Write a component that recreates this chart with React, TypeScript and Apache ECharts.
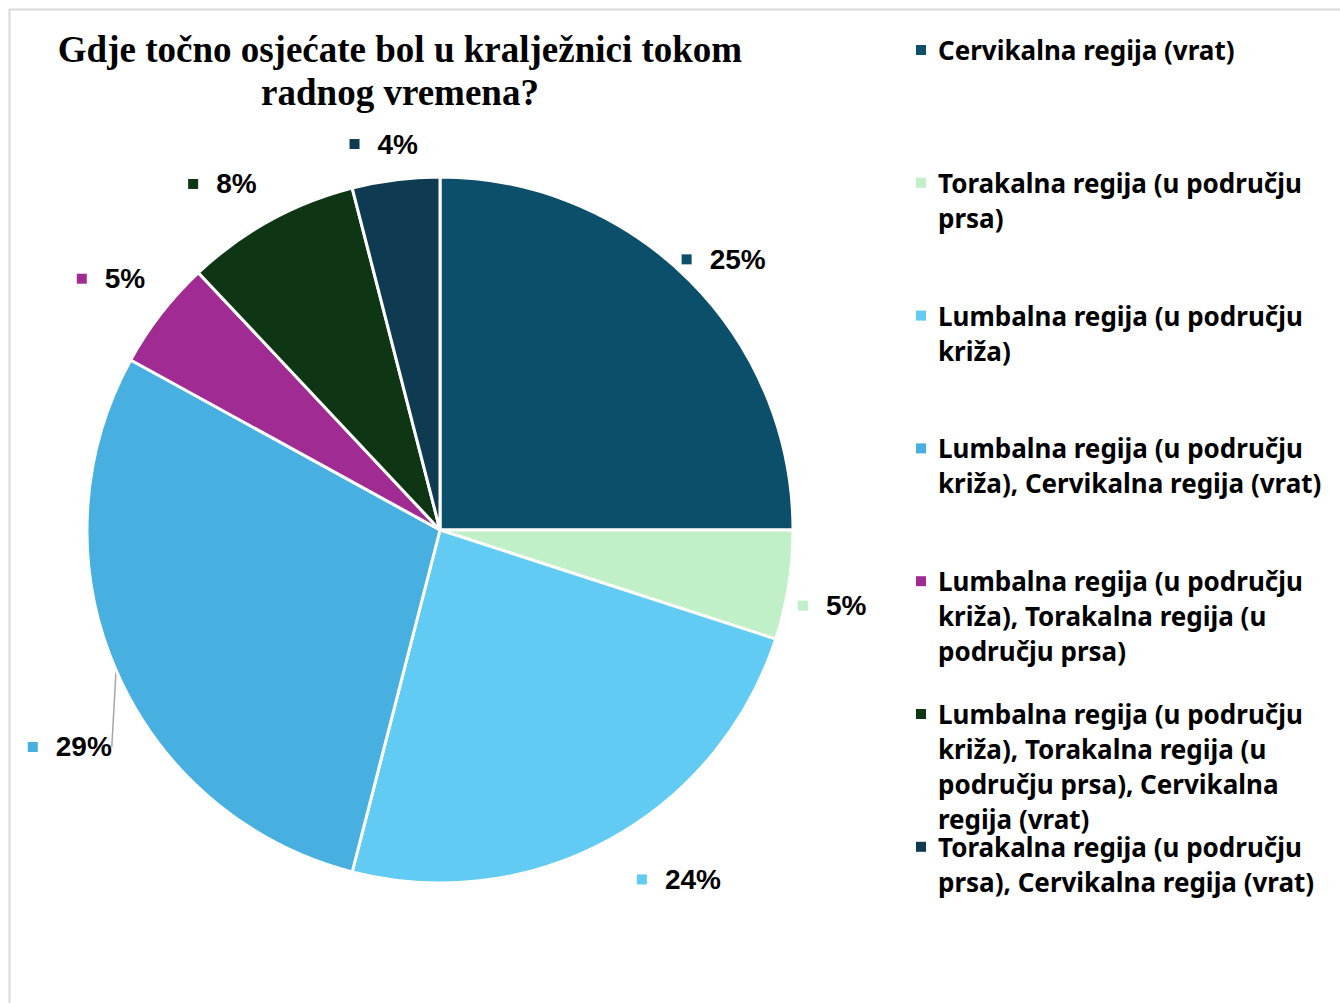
import React, { useEffect, useRef } from "react";
import * as echarts from "echarts";

const TITLE = "Gdje točno osjećate bol u kralježnici tokom\nradnog vremena?";
const categories = [
  "Cervikalna regija (vrat)",
  "Torakalna regija (u području prsa)",
  "Lumbalna regija (u području križa)",
  "Lumbalna regija (u području križa), Cervikalna regija (vrat)",
  "Lumbalna regija (u području križa), Torakalna regija (u području prsa)",
  "Lumbalna regija (u području križa), Torakalna regija (u području prsa), Cervikalna regija (vrat)",
  "Torakalna regija (u području prsa), Cervikalna regija (vrat)",
];
// legend text as wrapped in the reference
const legendLabels = [
  "Cervikalna regija (vrat)",
  "Torakalna regija (u području\nprsa)",
  "Lumbalna regija (u području\nkriža)",
  "Lumbalna regija (u području\nkriža), Cervikalna regija (vrat)",
  "Lumbalna regija (u području\nkriža), Torakalna regija (u\npodručju prsa)",
  "Lumbalna regija (u području\nkriža), Torakalna regija (u\npodručju prsa), Cervikalna\nregija (vrat)",
  "Torakalna regija (u području\nprsa), Cervikalna regija (vrat)",
];
const percents = [25, 5, 24, 29, 5, 8, 4];
const colors = ["#0b4f6a", "#c1f0c8", "#61cbf3", "#47b0e0", "#a02b93", "#0e3514", "#0e3a52"];

// label placement tweaks (layout only)
const labelLineLens = [34, 41, 64, 70, 57, 51, 32];
const labelShift = [
  [5, 3], [-2, 14], [33, -16], [23, 49], [0, 0], [-18, 8], [-3, -4],
];

export default function App() {
  const ref = useRef<HTMLDivElement>(null);
  useEffect(() => {
    if (!ref.current) return;
    const chart = echarts.init(ref.current, null, { renderer: "svg" });
    const rich: any = {
      v: { fontFamily: "Liberation Sans, Arial", fontWeight: "bold", fontSize: 28, color: "#000", padding: [0, 0, 0, 18] },
    };
    colors.forEach((c, i) => {
      rich["m" + i] = { width: 10, height: 10, backgroundColor: c };
    });
    const legendFont = "bold 26px 'Noto Sans', sans-serif";
    const legendGraphics: any[] = [];
    categories.forEach((name, i) => {
      const y = 50 + 132.8 * i;
      legendGraphics.push({
        type: "rect",
        shape: { x: 916, y: y - 5, width: 10, height: 10 },
        style: { fill: colors[i] },
        silent: true,
      });
      legendGraphics.push({
        type: "text",
        x: 938,
        y: y - 17.5,
        style: {
          text: legendLabels[i],
          font: legendFont,
          fill: "#000",
          lineHeight: 35,
          verticalAlign: "top",
          textAlign: "left",
        },
        silent: true,
      });
    });
    chart.setOption({
      animation: false,
      backgroundColor: "#fff",
      graphic: [
        {
          type: "rect",
          shape: { x: 9.5, y: 9.5, width: 1340, height: 1000 },
          style: { fill: "none", stroke: "#d9d9d9", lineWidth: 2 },
          silent: true,
        },
        {
          type: "text",
          x: 400,
          y: 28,
          style: {
            text: TITLE,
            font: "bold 37px 'Liberation Serif', 'Times New Roman', serif",
            fill: "#000",
            textAlign: "center",
            verticalAlign: "top",
            lineHeight: 43,
          },
          silent: true,
        },
        ...legendGraphics,
      ],
      series: [
        {
          type: "pie",
          center: [440, 530],
          radius: 353,
          startAngle: 90,
          clockwise: true,
          avoidLabelOverlap: false,
          itemStyle: { borderColor: "#fff", borderWidth: 3 },
          label: {
            show: true,
            position: "outside",
            formatter: (p: any) => `{m${p.dataIndex}|}{v|${p.value}%}`,
            rich,
          },
          labelLine: { show: false, length2: 0 },
          labelLayout: (p: any) => {
            const s = labelShift[p.dataIndex];
            const r = p.labelRect;
            const ax =
              p.align === "right" ? r.x + r.width : p.align === "center" ? r.x + r.width / 2 : r.x;
            const ay = r.y + r.height / 2;
            return { x: ax + s[0], y: ay + s[1], align: "center", verticalAlign: "middle" };
          },
          data: categories.map((name, i) => ({
            name,
            value: percents[i],
            itemStyle: { color: colors[i] },
            labelLine: {
              show: i === 3,
              length: labelLineLens[i],
              length2: 0,
              lineStyle: { color: "#a6a6a6", width: 1.5 },
            },
          })),
        },
      ],
    });
    return () => chart.dispose();
  }, []);
  return (
    <div
      ref={ref}
      style={{ position: "absolute", left: 0, top: 0, width: 1340, height: 1003 }}
    />
  );
}
